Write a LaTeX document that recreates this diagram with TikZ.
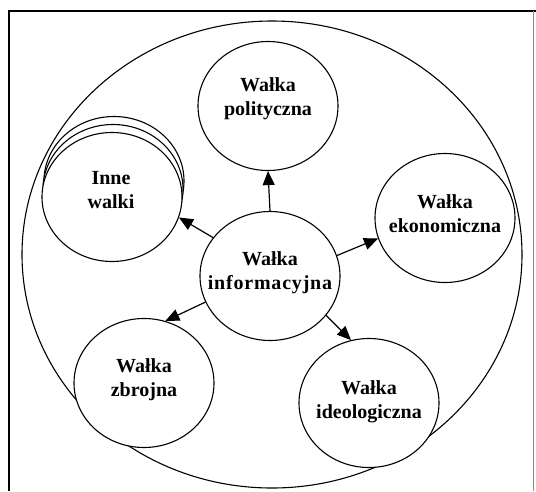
\documentclass[tikz,border=0pt]{standalone}
\usepackage{fontspec}
\setmainfont{Liberation Serif}
\usetikzlibrary{shapes.geometric,arrows.meta}
\begin{document}
\begin{tikzpicture}[x=1pt,y=-1pt,
  bubble/.style={draw,ellipse,line width=1.1pt,minimum width=140pt,minimum height=129pt,inner sep=0pt,fill=white},
  lbl/.style={font=\bfseries\fontsize{20}{24}\selectfont,align=center,inner sep=0pt},
  link/.style={line width=1.2pt,-{Triangle[length=14pt,width=12pt]}}]
\useasboundingbox (0,0) rectangle (536,491);
% frame
\draw[line width=1.2pt] (9,491) -- (9,11) -- (536,11);
\draw[line width=0.8pt,black!45] (533,11) -- (533,491);
% enclosing ellipse
\node[draw,ellipse,line width=1.1pt,minimum width=500pt,minimum height=467pt,inner sep=0pt] (outer) at (272,254.5) {};
% stacked circles for the remaining kinds of struggle
\node[bubble] (inne3) at (114,181) {};
\node[bubble] (inne2) at (113,189) {};
\node[bubble] (inne) at (112,197) {};
% the other circles
\node[bubble] (pol) at (268,106) {};
\node[bubble] (eko) at (445,218) {};
\node[bubble] (info) at (270,276) {};
\node[bubble] (zbr) at (144,383) {};
\node[bubble] (ideo) at (369,403) {};
% labels
\node[lbl] at (268,99) {Wałka\\polityczna};
\node[lbl] at (111,190) {Inne\\walki};
\node[lbl] at (445,214) {Wałka\\ekonomiczna};
\node[lbl] at (270,273) {Wałka\\{\addfontfeature{LetterSpace=4}informacyjna}};
\node[lbl] at (144,380) {Wałka\\zbrojna};
\node[lbl] at (369,402) {Wałka\\ideologiczna};
% arrows
\draw[link] (info.90) -- (pol.270);
\draw[link] (info.146) -- (inne.343);
\draw[link] (info.17) -- (eko.197);
\draw[link] (info.202) -- (zbr.71);
\draw[link] (info.325) -- (ideo.106);
\end{tikzpicture}
\end{document}
